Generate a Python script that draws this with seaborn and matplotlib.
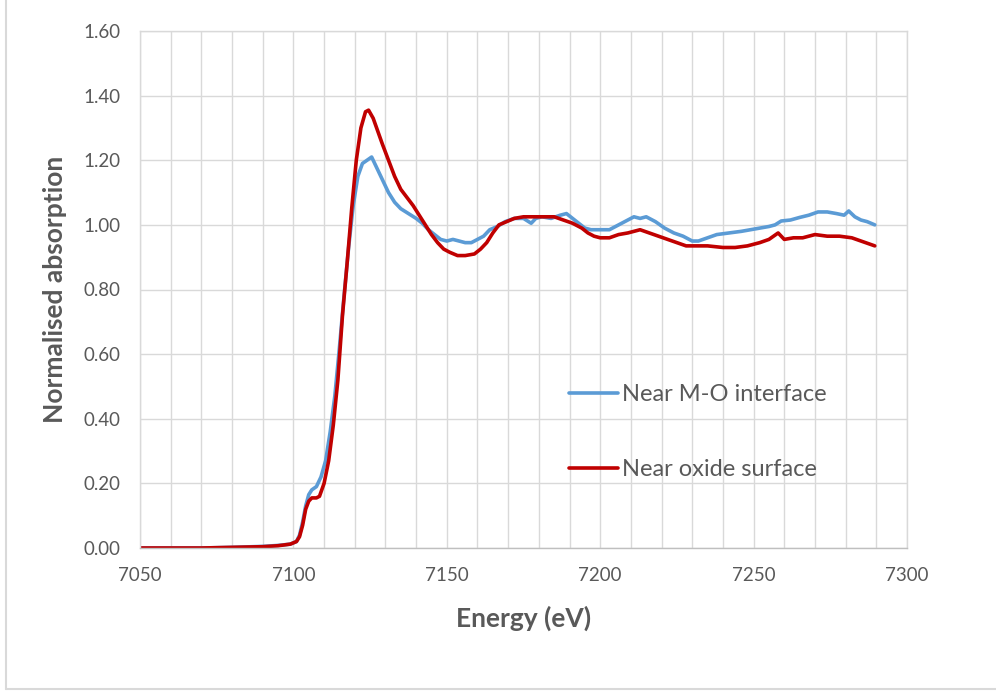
import numpy as np
import pandas as pd
import matplotlib
matplotlib.use("Agg")
import matplotlib.pyplot as plt
from matplotlib.lines import Line2D
from matplotlib.ticker import MultipleLocator
import seaborn as sns

# Near M-O interface (blue)
energy_interface = [7050, 7070, 7080, 7090, 7095, 7099, 7101, 7102, 7103, 7104, 7105, 7106,
                    7107.5, 7109, 7110.5, 7112, 7113.5, 7115, 7116.5, 7118, 7119.5, 7121,
                    7122.5, 7124, 7125.5, 7127, 7129, 7131, 7133, 7135, 7137.5, 7140, 7142,
                    7144, 7146, 7148, 7150, 7152, 7154, 7156, 7158, 7160, 7162, 7164, 7166.5,
                    7169, 7172, 7175, 7177.5, 7179, 7181, 7184, 7187, 7189, 7191, 7193, 7195,
                    7197, 7200, 7203, 7206, 7209, 7211, 7213, 7215, 7218, 7221, 7224, 7227,
                    7230, 7232, 7235, 7238, 7242, 7246, 7249, 7252, 7255, 7257, 7259, 7262,
                    7265, 7268, 7271, 7274, 7277, 7279.5, 7281, 7283, 7285, 7287, 7289.5]
absorb_interface = [0.0, 0.0, 0.002, 0.005, 0.008, 0.012, 0.02, 0.04, 0.08, 0.13, 0.165, 0.18,
                    0.19, 0.22, 0.27, 0.36, 0.47, 0.62, 0.78, 0.93, 1.06, 1.15,
                    1.19, 1.20, 1.21, 1.18, 1.14, 1.10, 1.07, 1.05, 1.035, 1.02, 1.005,
                    0.985, 0.97, 0.955, 0.95, 0.955, 0.95, 0.945, 0.945, 0.955, 0.965, 0.985, 0.995,
                    1.01, 1.02, 1.02, 1.005, 1.02, 1.025, 1.02, 1.03, 1.035, 1.02, 1.005, 0.99,
                    0.985, 0.985, 0.985, 1.0, 1.015, 1.025, 1.02, 1.025, 1.01, 0.99, 0.975, 0.965,
                    0.95, 0.95, 0.96, 0.97, 0.975, 0.98, 0.985, 0.99, 0.995, 1.0, 1.012, 1.015,
                    1.023, 1.03, 1.04, 1.04, 1.035, 1.03, 1.043, 1.025, 1.015, 1.01, 1.0]

# Near oxide surface (red)
energy_surface = [7050, 7070, 7080, 7090, 7095, 7099, 7101, 7102, 7103, 7104, 7105, 7106,
                  7107.5, 7108.5, 7110, 7111.5, 7113, 7114.5, 7116, 7117.5, 7119, 7120.5,
                  7122, 7123.5, 7124.5, 7126, 7127.5, 7129, 7131, 7133, 7135, 7137, 7139,
                  7141, 7143, 7145, 7147, 7149, 7151, 7153.5, 7156, 7159, 7161, 7163, 7165,
                  7167, 7169.5, 7172, 7175, 7178, 7182, 7185, 7188, 7191, 7194, 7196, 7198,
                  7200, 7203, 7206, 7209, 7213, 7216, 7219, 7222, 7225, 7228, 7231, 7235,
                  7240, 7244, 7248, 7252, 7255, 7258, 7260, 7263, 7266, 7270, 7274, 7278,
                  7282, 7285, 7289.5]
absorb_surface = [0.0, 0.0, 0.002, 0.004, 0.007, 0.012, 0.02, 0.035, 0.07, 0.12, 0.145, 0.155,
                  0.155, 0.16, 0.2, 0.27, 0.38, 0.52, 0.72, 0.88, 1.05, 1.2,
                  1.30, 1.35, 1.355, 1.33, 1.29, 1.25, 1.2, 1.15, 1.11, 1.085, 1.06,
                  1.03, 1.0, 0.97, 0.945, 0.925, 0.915, 0.905, 0.905, 0.91, 0.925, 0.945, 0.975,
                  1.0, 1.01, 1.02, 1.025, 1.025, 1.025, 1.025, 1.015, 1.005, 0.99, 0.975, 0.965,
                  0.96, 0.96, 0.97, 0.975, 0.985, 0.975, 0.965, 0.955, 0.945, 0.935, 0.935, 0.935,
                  0.93, 0.93, 0.935, 0.945, 0.955, 0.975, 0.955, 0.96, 0.96, 0.97, 0.965, 0.965,
                  0.96, 0.95, 0.935]

series_labels = ["Near M-O interface", "Near oxide surface"]
series_colors = ["#5B9BD5", "#C00000"]
x_ticks = [7050, 7100, 7150, 7200, 7250, 7300]
y_ticks = [0.0, 0.2, 0.4, 0.6, 0.8, 1.0, 1.2, 1.4, 1.6]

df = pd.concat([
    pd.DataFrame({"energy": energy_interface, "absorption": absorb_interface, "series": series_labels[0]}),
    pd.DataFrame({"energy": energy_surface, "absorption": absorb_surface, "series": series_labels[1]}),
], ignore_index=True)

sns.set_style("white")
plt.rcParams["font.family"] = ["Lato", "DejaVu Sans"]

text_col = "#595959"
grid_col = "#D9D9D9"

fig = plt.figure(figsize=(9.96, 6.91), dpi=100)
ax = fig.add_axes([140 / 996, 1 - 548 / 691, 767 / 996, 517 / 691])

sns.lineplot(data=df, x="energy", y="absorption", hue="series", hue_order=series_labels,
             palette=series_colors, linewidth=2.6, sort=False, estimator=None, ax=ax)

ax.set_xlim(7050, 7300)
ax.set_ylim(0, 1.6)
ax.set_xticks(x_ticks)
ax.set_yticks(y_ticks)
ax.set_yticklabels([f"{v:.2f}" for v in y_ticks])
ax.xaxis.set_minor_locator(MultipleLocator(10))
ax.grid(True, which="both", color=grid_col, linewidth=1.0)
ax.set_axisbelow(True)
ax.tick_params(axis="both", which="both", length=0, labelsize=13.5, colors=text_col)
ax.tick_params(axis="x", pad=14)
ax.tick_params(axis="y", pad=14)
for s in ax.spines.values():
    s.set_color(grid_col)
    s.set_linewidth(1.0)
ax.spines["bottom"].set_color("#BFBFBF")

ax.set_xlabel("Energy (eV)", fontsize=19, fontweight="bold", color=text_col, labelpad=15)
ax.set_ylabel("Normalised absorption", fontsize=19, fontweight="bold", color=text_col, labelpad=12)

leg = ax.legend(loc="upper left", bbox_to_anchor=(0.531, 0.358), frameon=False,
                fontsize=17, handlelength=2.1, handletextpad=0.15, labelspacing=2.3)
for t in leg.get_texts():
    t.set_color(text_col)

# light outer frame of the chart area
fig.add_artist(Line2D([6 / 996, 6 / 996], [2 / 691, 1], color="#D9D9D9", lw=1.5, transform=fig.transFigure))
fig.add_artist(Line2D([6 / 996, 1], [2 / 691, 2 / 691], color="#D9D9D9", lw=1.5, transform=fig.transFigure))

fig.savefig("out.png", dpi=100)
